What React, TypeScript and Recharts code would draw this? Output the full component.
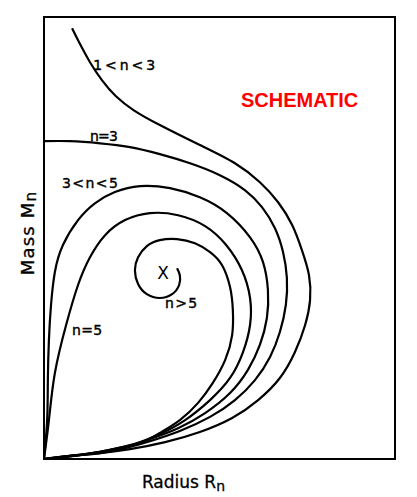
import { LineChart, Line, XAxis, YAxis, ReferenceArea, ReferenceDot } from "recharts"

type Pt = { r: number; m: number }
const pts = (list: number[][]): Pt[] => list.map(([r, m]) => ({ r, m }))

// schematic mass-radius curves (R from 0-100, M from 0-126)
const n1to3 = pts([
  [8.0, 122.8], [10.3, 118.2], [13.1, 113.1], [16.5, 108.0], [20.5, 103.4], [25.6, 99.4],
  [33.0, 95.2], [44.4, 89.5], [54.4, 84.3], [61.5, 78.9], [66.7, 73.2], [70.7, 66.7],
  [73.5, 59.5], [75.5, 52.4], [75.8, 45.3], [74.4, 38.2], [71.5, 30.5], [67.2, 23.1],
  [61.0, 16.8], [53.6, 11.7], [44.4, 7.7], [34.5, 4.8], [24.5, 2.8], [16.0, 1.7],
  [7.4, 0.9], [0, 0],
])

const n3 = pts([
  [0, 90.6], [7.4, 90.6], [16.0, 90.0], [24.5, 88.9], [33.0, 86.9], [41.6, 84.3],
  [50.1, 80.9], [57.3, 76.6], [62.1, 71.8], [65.8, 65.8], [68.1, 59.0], [69.2, 51.6],
  [68.9, 43.9], [67.2, 36.2], [64.4, 29.1], [60.1, 22.5], [54.4, 16.8], [47.3, 12.0],
  [38.7, 8.0], [30.2, 5.1], [23.1, 3.1], [16.0, 1.7], [7.4, 0.9], [0, 0],
])

const n3to5 = pts([
  [0, 0], [0.9, 11.1], [1.1, 22.5], [1.4, 33.9], [2.0, 43.9], [3.1, 53.3], [5.4, 61.0],
  [9.7, 68.1], [14.5, 72.9], [20.2, 76.1], [27.4, 77.8], [35.9, 77.2], [44.4, 74.6],
  [52.1, 70.1], [58.7, 63.2], [62.4, 56.1], [63.8, 48.1], [63.5, 40.2], [61.5, 32.5],
  [58.1, 25.4], [53.0, 18.8], [45.9, 13.1], [38.2, 8.8], [30.2, 5.7], [23.1, 3.4],
  [16.0, 2.0], [7.4, 0.9], [0, 0],
])

const n5 = pts([
  [0, 0], [1.4, 11.1], [3.1, 24.5], [6.3, 38.2], [9.7, 49.6], [13.1, 57.5], [17.4, 63.8],
  [23.1, 68.1], [30.2, 70.1], [38.2, 69.5], [45.9, 66.4], [51.9, 61.0], [56.4, 53.8],
  [58.7, 45.9], [58.7, 38.2], [56.7, 30.5], [53.0, 23.1], [47.3, 16.8], [40.2, 11.1],
  [33.0, 7.1], [25.9, 4.3], [18.8, 2.6], [10.3, 1.1], [0, 0],
])

const nOver5 = pts([
  [0, 0], [10.3, 1.1], [18.8, 2.6], [27.4, 4.6], [33.0, 7.4], [38.7, 11.1], [43.9, 16.0],
  [48.1, 21.7], [51.6, 28.2], [53.6, 35.3], [53.8, 42.5], [53.0, 49.0], [50.7, 55.3],
  [47.3, 59.0], [43.0, 61.5], [37.9, 62.7], [33.0, 62.4], [29.3, 60.7], [26.8, 57.5],
  [25.9, 53.8], [26.8, 49.9], [29.3, 47.0], [33.0, 45.9], [36.5, 47.0], [38.5, 49.6],
  [38.7, 52.4], [37.9, 54.4],
])

const curves = [n1to3, n3, n3to5, n5, nOver5]

const font = "'DejaVu Sans', sans-serif"

function note(key: string, x: number, y: number, draw: (cx: number, cy: number) => any) {
  return (
    <ReferenceDot
      key={key}
      x={x}
      y={y}
      r={0}
      ifOverflow="visible"
      shape={(p: any) => draw(p.cx, p.cy)}
    />
  )
}

function curveLabel(key: string, x: number, y: number, text: string, width: number) {
  return note(key, x, y, (cx, cy) => (
    <text
      x={cx}
      y={cy}
      dominantBaseline="central"
      fontFamily={font}
      fontSize={14}
      fill="#000"
      stroke="#000"
      strokeWidth={0.4}
      textLength={width}
      lengthAdjust="spacing"
    >
      {text}
    </text>
  ))
}

export default function App() {
  return (
    <div style={{ position: "absolute", left: 0, top: 0, background: "#fff" }}>
      <LineChart width={417} height={497} margin={{ top: 17, right: 22, bottom: 38, left: 44 }}>
        <XAxis type="number" dataKey="r" domain={[0, 100]} hide />
        <YAxis type="number" domain={[0, 126]} hide />
        <ReferenceArea x1={0} x2={100} y1={0} y2={126} fill="none" stroke="#000" strokeWidth={2} />
        {curves.map((c, i) => (
          <Line
            key={i}
            data={c}
            dataKey="m"
            type="natural"
            stroke="#000"
            strokeWidth={2.2}
            dot={false}
            activeDot={false}
            isAnimationActive={false}
          />
        ))}
        {curveLabel("l1", 14.0, 112.3, "1<n<3", 62)}
        {curveLabel("l2", 13.1, 92.0, "n=3", 28)}
        {curveLabel("l3", 5.1, 78.6, "3<n<5", 56)}
        {curveLabel("l4", 34.5, 44.4, "n>5", 32)}
        {curveLabel("l5", 8.0, 36.8, "n=5", 30)}
        {note("x", 33.9, 53.0, (cx, cy) => (
          <text x={cx} y={cy} textAnchor="middle" dominantBaseline="central" fontFamily={font} fontSize={17} fill="#000">
            X
          </text>
        ))}
        {note("s", 56.1, 102.3, (cx, cy) => (
          <text
            x={cx}
            y={cy}
            dominantBaseline="central"
            fontFamily="'Liberation Sans', Arial, sans-serif"
            fontWeight="bold"
            fontSize={20}
            fill="#ff0000"
          >
            SCHEMATIC
          </text>
        ))}
        {note("xl", 27.9, -6.6, (cx, cy) => (
          <text
            x={cx}
            y={cy}
            dominantBaseline="central"
            fontFamily={font}
            fontSize={17}
            fill="#000"
            stroke="#000"
            strokeWidth={0.3}
          >
            Radius R<tspan dy={4} fontSize={14}>n</tspan>
          </text>
        ))}
        {note("yl", -4.8, 64.4, (cx, cy) => (
          <text
            x={cx}
            y={cy}
            transform={`rotate(-90 ${cx} ${cy})`}
            textAnchor="middle"
            dominantBaseline="central"
            fontFamily={font}
            fontSize={18}
            letterSpacing={1.2}
            fill="#000"
            stroke="#000"
            strokeWidth={0.3}
          >
            Mass M<tspan dy={4} fontSize={15}>n</tspan>
          </text>
        ))}
      </LineChart>
    </div>
  )
}
